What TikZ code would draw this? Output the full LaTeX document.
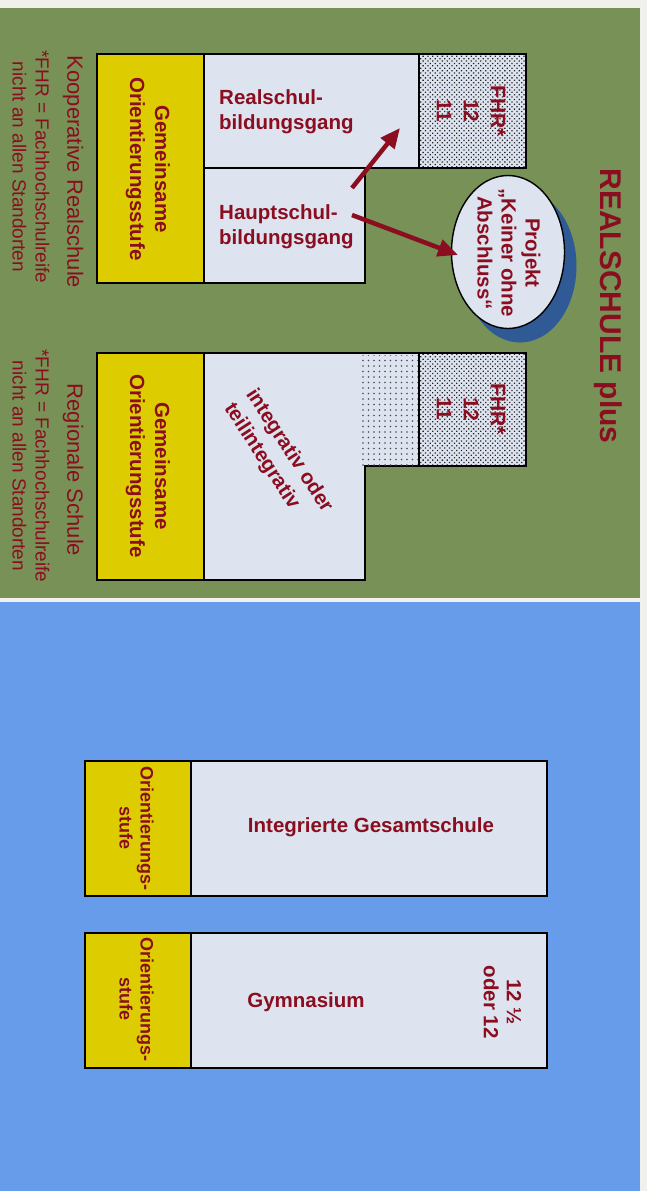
\documentclass[tikz,border=0pt]{standalone}
\usepackage{fontspec}
\setmainfont{Liberation Sans}
\usepackage{xcolor}
\usepackage{tikz}
\usetikzlibrary{calc,arrows.meta,patterns.meta}

\definecolor{paper}{RGB}{240,240,236}
\definecolor{slidegreen}{RGB}{119,145,86}
\definecolor{slideblue}{RGB}{102,156,234}
\definecolor{ostgelb}{RGB}{221,205,0}
\definecolor{boxfill}{RGB}{221,228,240}
\definecolor{wine}{RGB}{138,14,32}
\definecolor{shadeblue}{RGB}{48,90,150}

\begin{document}
\begin{tikzpicture}[x=1pt,y=-1pt,>={Triangle[length=20pt,width=17pt]},
  box/.style={draw=black,line width=1.4pt,fill=boxfill},
  ost/.style={draw=black,line width=1.4pt,fill=ostgelb},
  fhrbox/.style={draw=black,line width=1.4pt,preaction={fill=boxfill},
    pattern={Dots[distance=3.4pt,radius=.9pt,angle=45]},pattern color=black!85},
  txt/.style={text=wine,font=\bfseries\fontsize{20.5}{25}\selectfont,align=center,inner sep=0pt},
  note/.style={text=wine,font=\fontsize{19}{23}\selectfont,align=center,inner sep=0pt},
  pfeil/.style={->,draw=wine,line width=4.5pt}]
  \useasboundingbox (0,0) rectangle (647,1191);
  \fill[paper] (0,0) rectangle (647,1191);
  \fill[slidegreen] (0,8) rectangle (640,598);
  \fill[slideblue] (0,602) rectangle (640,1191);

  % Kooperative Realschule
  \draw[ost] (97,54) rectangle (204,283);
  \draw[box] (204,54) rectangle (419,168);
  \draw[fhrbox] (419,54) rectangle (526,168);
  \draw[box] (204,168) rectangle (365,283);

  % Regionale Schule
  \draw[ost] (97,353) rectangle (204,580);
  \draw[box] (204,353) -- (419,353) -- (419,466) -- (365,466) -- (365,580) -- (204,580) -- cycle;
  \fill[pattern={Dots[distance=5.5pt,radius=.8pt]},pattern color=black!70] (362,355) rectangle (418,465);
  \draw[fhrbox] (419,353) rectangle (526,466);

  % Gesamtschule und Gymnasium
  \draw[ost] (85,761) rectangle (191,896);
  \draw[box] (191,761) rectangle (547,896);
  \draw[ost] (85,933) rectangle (191,1068);
  \draw[box] (191,933) rectangle (547,1068);

  \node[txt,rotate=-90,font=\bfseries\fontsize{30}{36}\selectfont] (titel) at (608,306) {REALSCHULE plus};

  \node[txt,rotate=-90] (ostA) at (148,169) {Gemeinsame\\Orientierungsstufe};
  \node[txt,anchor=west,align=left] (rs) at (219,112) {Realschul-\\bildungsgang};
  \node[txt,anchor=west,align=left] (hs) at (219,227) {Hauptschul-\\bildungsgang};
  \node[txt,rotate=-90,font=\bfseries\fontsize{21}{27}\selectfont] (fhrA) at (471,111) {FHR*\\12\\11};
  \node[note,rotate=-90,font=\fontsize{22}{26}\selectfont] (koop) at (73,172) {Kooperative Realschule};
  \node[note,rotate=-90] (fnA) at (31,167) {*FHR = Fachhochschulreife\\nicht an allen Standorten};

  \coordinate (pc) at (508,252);
  \fill[shadeblue] ($(pc)+(12,14)$) ellipse [x radius=56.5pt,y radius=76.5pt];
  \draw[line width=1.4pt,fill=boxfill] (pc) ellipse [x radius=56.5pt,y radius=76.5pt];
  \node[txt,rotate=-90,font=\bfseries\fontsize{20.5}{24}\selectfont] (proj) at (509,253) {Projekt\\„Keiner ohne\\Abschluss“};

  \node[txt,rotate=-90] (ostB) at (148,466) {Gemeinsame\\Orientierungsstufe};
  \node[txt,rotate=-57,align=left,font=\bfseries\fontsize{20.5}{26}\selectfont] (integ) at (278,458) {integrativ oder\\teilintegrativ};
  \node[txt,rotate=-90,font=\bfseries\fontsize{21}{27}\selectfont] (fhrB) at (471,409) {FHR*\\12\\11};
  \node[note,rotate=-90,font=\fontsize{22}{26}\selectfont] (reg) at (73,470) {Regionale Schule};
  \node[note,rotate=-90] (fnB) at (31,466) {*FHR = Fachhochschulreife\\nicht an allen Standorten};

  \node[txt,rotate=-90,font=\bfseries\fontsize{18}{21}\selectfont] (osA) at (136.5,828) {Orientierungs-\\stufe};
  \node[txt] (igs) at (371,827) {Integrierte Gesamtschule};
  \node[txt,rotate=-90,font=\bfseries\fontsize{18}{21}\selectfont] (osB) at (136.5,999) {Orientierungs-\\stufe};
  \node[txt] (gym) at (306,1002) {Gymnasium};
  \node[txt,rotate=-90,font=\bfseries\fontsize{20.5}{23}\selectfont] (jahr) at (502.5,1002) {12 ½\\oder 12};

  \coordinate (a1) at (352,188);
  \coordinate (t1) at (400,128);
  \coordinate (a2) at (352,215);
  \coordinate (t2) at (458,255);
  \draw[pfeil] (a1) -- (t1);
  \draw[pfeil] (a2) -- (t2);
\end{tikzpicture}
\end{document}
